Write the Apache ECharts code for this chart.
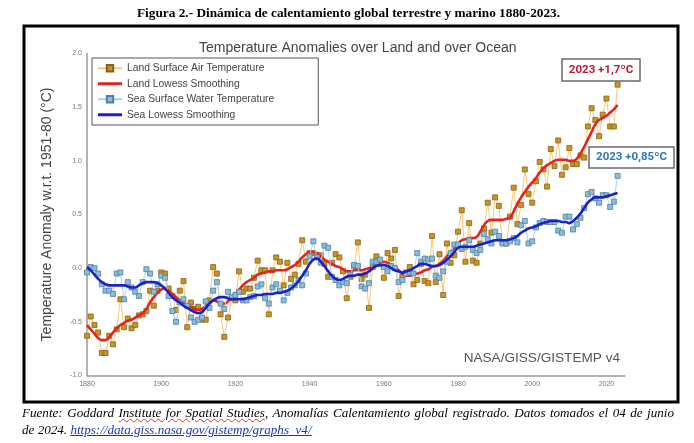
<!DOCTYPE html>
<html>
<head>
<meta charset="utf-8">
<script src="https://cdn.jsdelivr.net/npm/echarts@6/dist/echarts.min.js"></script>
<style>
html,body{margin:0;padding:0;background:#fff;}
#wrap{position:relative;width:694px;height:443px;overflow:hidden;}
#chart{position:absolute;left:0;top:0;width:694px;height:443px;}
.cap{position:absolute;top:5px;left:0;width:697px;text-align:center;font:bold 13.3px 'Liberation Serif','DejaVu Serif',serif;color:#000;}
.foot{position:absolute;top:404px;left:22px;width:652px;font:italic 13.1px 'Liberation Serif','DejaVu Serif',serif;line-height:17px;color:#000;}
.foot .l1{display:block;text-align:justify;text-align-last:justify;white-space:nowrap;}
.foot .sp{text-decoration:underline wavy #d33;text-decoration-thickness:1px;}
.foot a{color:#1a35b8;text-decoration:underline;}
</style>
</head>
<body>
<div id="wrap">
<div id="chart"></div>
<div class="cap">Figura 2.- Dinámica de calentamiento global terrestre y marino 1880-2023.</div>
<div class="foot"><span class="l1">Fuente: Goddard <span class="sp">Institute for Spatial Studies</span>, Anomalías Calentamiento global registrado. Datos tomados el 04 de junio</span>de 2024. <a href="#">https://data.giss.nasa.gov/gistemp/graphs_v4/</a></div>
</div>
<script>
// años 1880-2023
var firstYear = 1880
var lastYear = 2023
var xTicks = [1880, 1900, 1920, 1940, 1960, 1980, 2000, 2020]
var yTicks = [-1.0, -0.5, 0.0, 0.5, 1.0, 1.5, 2.0]

// Land Surface Air Temperature (anual)
var landAnnual = [
	-0.63, -0.45, -0.53, -0.60, -0.79, -0.79, -0.63, -0.71, -0.57, -0.29, //1880
	-0.55, -0.47, -0.56, -0.53, -0.44, -0.43, -0.40, -0.21, -0.35, -0.21, //1890
	-0.04, -0.05, -0.19, -0.26, -0.39, -0.21, -0.12, -0.55, -0.32, -0.38, //1900
	-0.36, -0.48, -0.48, -0.30, 0.01, -0.05, -0.43, -0.64, -0.46, -0.28, //1910
	-0.30, -0.03, -0.22, -0.19, -0.19, -0.09, 0.07, -0.02, -0.02, -0.43, //1920
	-0.02, 0.10, 0.06, -0.16, 0.05, -0.10, -0.06, 0.04, 0.26, 0.06, //1930
	0.14, 0.14, 0.12, 0.12, 0.04, -0.08, 0.05, 0.13, 0.10, -0.03, //1940
	-0.28, -0.08, 0.02, 0.24, -0.10, -0.06, -0.37, 0.01, 0.11, 0.04, //1950
	-0.09, 0.14, 0.09, 0.17, -0.26, -0.08, -0.04, 0.01, -0.15, -0.11, //1960
	0.04, -0.12, -0.14, 0.30, -0.13, 0.13, -0.25, 0.23, 0.05, 0.12, //1970
	0.34, 0.54, 0.06, 0.42, 0.07, 0.05, 0.23, 0.37, 0.61, 0.33, //1980
	0.66, 0.58, 0.24, 0.23, 0.48, 0.75, 0.41, 0.59, 0.92, 0.69, //1990
	0.61, 0.81, 0.99, 0.92, 0.76, 1.11, 0.95, 1.19, 0.87, 0.94, //2000
	1.12, 0.97, 0.97, 1.05, 1.03, 1.32, 1.49, 1.38, 1.23, 1.43, //2010
	1.58, 1.32, 1.32, 1.71 //2020
]
// Land Lowess Smoothing
var landLowess = [
	-0.53, -0.57, -0.61, -0.65, -0.67, -0.67, -0.64, -0.60, -0.56, -0.53,
	-0.51, -0.49, -0.48, -0.46, -0.44, -0.42, -0.38, -0.32, -0.27, -0.23,
	-0.20, -0.19, -0.21, -0.24, -0.27, -0.30, -0.32, -0.34, -0.36, -0.38,
	-0.39, -0.38, -0.35, -0.32, -0.30, -0.31, -0.33, -0.33, -0.31, -0.27,
	-0.24, -0.20, -0.16, -0.13, -0.11, -0.09, -0.06, -0.05, -0.04, -0.03,
	-0.03, -0.02, -0.02, -0.02, -0.01, 0.01, 0.03, 0.06, 0.10, 0.13,
	0.15, 0.15, 0.14, 0.11, 0.08, 0.06, 0.04, 0.02, 0.01, -0.01,
	-0.03, -0.03, -0.02, -0.02, -0.02, -0.01, 0.00, 0.01, 0.03, 0.05,
	0.06, 0.05, 0.03, 0.01, -0.02, -0.05, -0.07, -0.07, -0.06, -0.05,
	-0.04, -0.02, -0.01, 0.01, 0.02, 0.04, 0.07, 0.11, 0.15, 0.19,
	0.23, 0.26, 0.27, 0.28, 0.28, 0.29, 0.34, 0.40, 0.44, 0.45,
	0.45, 0.45, 0.45, 0.46, 0.47, 0.53, 0.60, 0.66, 0.71, 0.76,
	0.80, 0.84, 0.89, 0.93, 0.96, 0.98, 1.00, 1.01, 1.01, 1.01,
	1.00, 1.00, 1.02, 1.07, 1.13, 1.20, 1.27, 1.34, 1.38, 1.40,
	1.42, 1.45, 1.48, 1.52
]
// Sea Surface Water Temperature (anual)
var seaAnnual = [
	-0.04, 0.01, 0.00, -0.05, -0.15, -0.21, -0.21, -0.24, -0.05, -0.04,
	-0.29, -0.13, -0.18, -0.22, -0.26, -0.13, -0.01, -0.05, -0.22, -0.15,
	-0.07, -0.09, -0.26, -0.40, -0.50, -0.32, -0.29, -0.35, -0.46, -0.50,
	-0.48, -0.46, -0.31, -0.37, -0.21, -0.13, -0.33, -0.38, -0.22, -0.27,
	-0.25, -0.22, -0.30, -0.30, -0.27, -0.26, -0.17, -0.15, -0.28, -0.33,
	-0.18, -0.15, -0.21, -0.30, -0.23, -0.18, -0.16, -0.11, -0.16, -0.05,
	0.11, 0.25, 0.10, 0.05, 0.21, 0.19, -0.08, -0.11, -0.16, -0.13,
	-0.14, -0.06, 0.03, 0.02, -0.17, -0.19, -0.14, 0.06, 0.06, 0.08,
	0.01, -0.03, 0.02, 0.00, -0.13, -0.11, -0.05, -0.04, -0.05, 0.14,
	0.06, 0.09, 0.08, 0.09, -0.07, -0.09, -0.03, 0.06, 0.14, 0.22,
	0.22, 0.18, 0.20, 0.26, 0.17, 0.14, 0.17, 0.32, 0.27, 0.23,
	0.34, 0.30, 0.23, 0.23, 0.25, 0.28, 0.24, 0.40, 0.44, 0.23,
	0.25, 0.38, 0.42, 0.44, 0.43, 0.43, 0.43, 0.35, 0.33, 0.48,
	0.48, 0.36, 0.41, 0.47, 0.56, 0.69, 0.71, 0.65, 0.61, 0.68,
	0.68, 0.57, 0.62, 0.86
]
// Sea Lowess Smoothing
var seaLowess = [
	0.01, -0.02, -0.06, -0.10, -0.13, -0.15, -0.16, -0.16, -0.16, -0.16,
	-0.16, -0.17, -0.18, -0.18, -0.16, -0.14, -0.13, -0.13, -0.13, -0.14,
	-0.16, -0.19, -0.23, -0.27, -0.30, -0.32, -0.35, -0.37, -0.39, -0.41,
	-0.42, -0.41, -0.37, -0.33, -0.30, -0.28, -0.27, -0.27, -0.28, -0.29,
	-0.29, -0.29, -0.29, -0.28, -0.27, -0.26, -0.25, -0.25, -0.24, -0.24,
	-0.24, -0.23, -0.23, -0.22, -0.21, -0.19, -0.16, -0.12, -0.07, -0.02,
	0.04, 0.08, 0.09, 0.06, 0.02, -0.03, -0.07, -0.10, -0.11, -0.10,
	-0.08, -0.07, -0.07, -0.06, -0.06, -0.05, -0.03, 0.00, 0.02, 0.03,
	0.03, 0.02, 0.00, -0.02, -0.03, -0.04, -0.03, -0.02, 0.00, 0.02,
	0.04, 0.04, 0.03, 0.02, 0.02, 0.03, 0.05, 0.08, 0.11, 0.15,
	0.19, 0.20, 0.20, 0.20, 0.20, 0.21, 0.22, 0.23, 0.24, 0.25,
	0.26, 0.26, 0.26, 0.26, 0.27, 0.28, 0.30, 0.33, 0.35, 0.37,
	0.38, 0.39, 0.41, 0.42, 0.43, 0.44, 0.44, 0.44, 0.43, 0.43,
	0.42, 0.44, 0.47, 0.51, 0.56, 0.61, 0.64, 0.66, 0.66, 0.66,
	0.67, 0.68, 0.69, 0.70
]

let toPairs = (vals) => { //[año, valor]
	return vals.map(function(v, i) {
		return [firstYear + i, v]
	})
}

(function() {
	var myChart = echarts.init(document.getElementById('chart'), null, {renderer: 'canvas'})
	var sans = "'Liberation Sans', Arial, sans-serif"
	var lineIcon = 'path://M0,0H24V3H0Z' //icono de línea gruesa en la leyenda
	let option = {
		animation: false,
		backgroundColor: '#fff',
		title: {
			text: 'Temperature Anomalies over Land and over Ocean',
			left: 194,
			top: 36,
			textStyle: {
				fontFamily: sans,
				fontSize: 14,
				fontWeight: 'normal',
				color: '#444'
			}
		},
		legend: {
			orient: 'vertical',
			left: 92,
			top: 58,
			padding: [4, 44, 4, 5],
			itemGap: 3,
			itemWidth: 24,
			itemHeight: 8,
			symbolKeepAspect: true,
			backgroundColor: '#fff',
			borderColor: '#555',
			borderWidth: 1,
			textStyle: {
				fontFamily: sans,
				fontSize: 10.3,
				color: '#444',
				lineHeight: 12.5
			},
			data: ['Land Surface Air Temperature',
				{name: 'Land Lowess Smoothing', icon: lineIcon},
				'Sea Surface Water Temperature',
				{name: 'Sea Lowess Smoothing', icon: lineIcon}]
		},
		grid: {
			left: 87,
			top: 53.5,
			width: 538,
			height: 322
		},
		xAxis: {
			type: 'value',
			min: firstYear,
			max: 2025,
			interval: 20,
			splitLine: {show: false},
			axisTick: {show: false},
			axisLine: {onZero: false, lineStyle: {color: '#9a9a9a', width: 1.5}},
			axisLabel: {
				color: '#777',
				fontSize: 7,
				fontFamily: sans,
				margin: 5,
				formatter: function(v) {
					return xTicks.indexOf(v) >= 0 ? String(v) : ''
				}
			}
		},
		yAxis: {
			type: 'value',
			min: yTicks[0],
			max: yTicks[yTicks.length - 1],
			interval: 0.5,
			name: 'Temperature Anomaly w.r.t. 1951-80 (°C)',
			nameLocation: 'middle',
			nameGap: 33,
			nameTextStyle: {
				fontFamily: sans,
				fontSize: 14,
				color: '#444'
			},
			splitLine: {show: false},
			axisTick: {show: false},
			axisLine: {show: true, onZero: false, lineStyle: {color: '#9a9a9a', width: 1.5}},
			axisLabel: {
				color: '#777',
				fontSize: 7,
				fontFamily: sans,
				margin: 5,
				formatter: function(v) {
					return v.toFixed(1)
				}
			}
		},
		series: [{
				name: 'Land Surface Air Temperature',
				type: 'line',
				data: toPairs(landAnnual),
				symbol: 'rect',
				symbolSize: 5,
				lineStyle: {color: '#f7c878', width: 1},
				itemStyle: {color: '#c99620', borderColor: '#86621a', borderWidth: 0.8},
				z: 2
			},
			{
				name: 'Land Lowess Smoothing',
				type: 'line',
				data: toPairs(landLowess),
				smooth: true,
				symbol: 'none',
				lineStyle: {color: '#e5231b', width: 2.6},
				itemStyle: {color: '#e5231b'},
				z: 3
			},
			{
				name: 'Sea Surface Water Temperature',
				type: 'line',
				data: toPairs(seaAnnual),
				symbol: 'rect',
				symbolSize: 5,
				lineStyle: {color: '#a9d4ee', width: 1},
				itemStyle: {color: '#8bbcd8', borderColor: '#4f7fa3', borderWidth: 0.8},
				z: 4
			},
			{
				name: 'Sea Lowess Smoothing',
				type: 'line',
				data: toPairs(seaLowess),
				smooth: true,
				symbol: 'none',
				lineStyle: {color: '#1b22c4', width: 2.6},
				itemStyle: {color: '#1b22c4'},
				z: 5
			}
		],
		graphic: [{ //marco negro
				type: 'rect',
				shape: {x: 24, y: 26, width: 654, height: 376},
				style: {fill: 'none', stroke: '#000', lineWidth: 3},
				z: 100
			},
			{
				type: 'text',
				right: 74,
				top: 351,
				style: {text: 'NASA/GISS/GISTEMP v4', fill: '#555', font: "13.6px 'Liberation Sans', Arial, sans-serif"},
				z: 50
			},
			{
				type: 'rect',
				shape: {x: 562, y: 59, width: 78, height: 22},
				style: {fill: '#fff', stroke: '#6a6a6a', lineWidth: 1.5},
				z: 60
			},
			{
				type: 'text',
				x: 601,
				y: 70,
				style: {text: '2023 +1,7ºC', fill: '#c0163a', font: "bold 11.5px Roboto, 'Liberation Sans', sans-serif", align: 'center', verticalAlign: 'middle'},
				z: 61
			},
			{
				type: 'rect',
				shape: {x: 589, y: 147, width: 85, height: 21},
				style: {fill: '#fff', stroke: '#6a6a6a', lineWidth: 1.5},
				z: 60
			},
			{
				type: 'text',
				x: 631.5,
				y: 157.5,
				style: {text: '2023 +0,85ºC', fill: '#2f78b8', font: "bold 11.5px Roboto, 'Liberation Sans', sans-serif", align: 'center', verticalAlign: 'middle'},
				z: 61
			}
		]
	};
	myChart.setOption(option);
	window.addEventListener("resize", function() {
		myChart.resize();
	})
})();
</script>
</body>
</html>
